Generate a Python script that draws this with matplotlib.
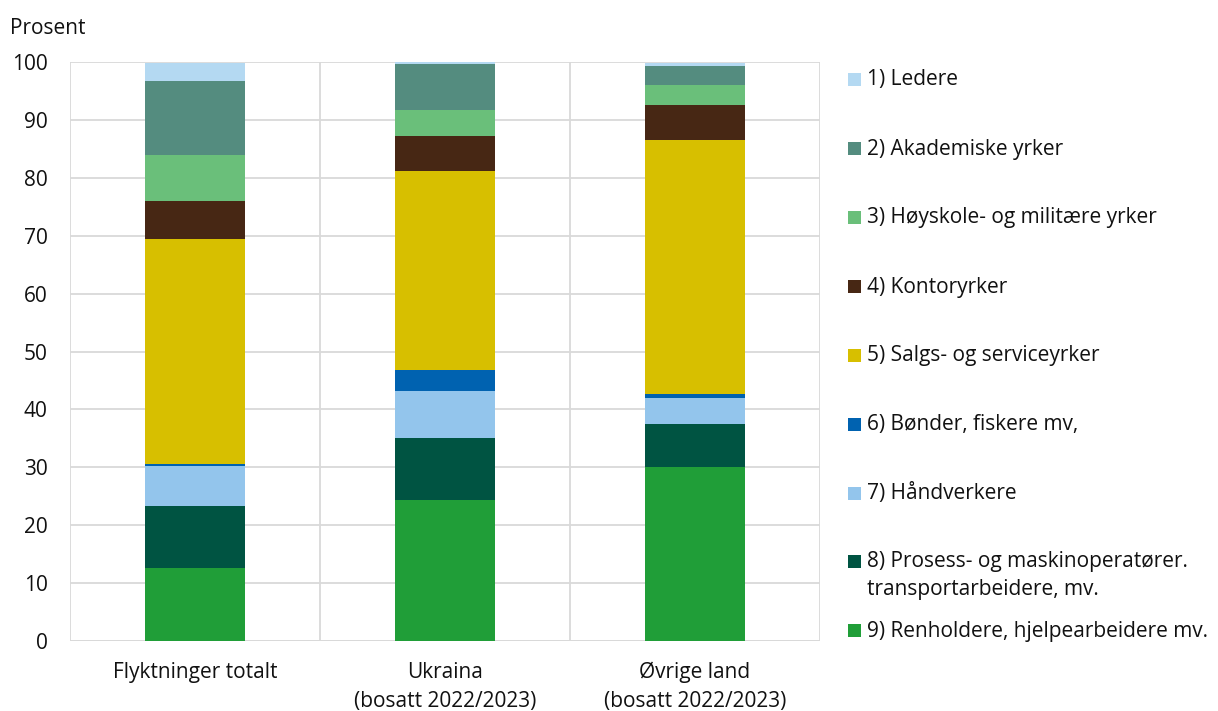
import matplotlib
matplotlib.use("Agg")
import matplotlib.pyplot as plt
from matplotlib.patches import Rectangle
import numpy as np

plt.rcParams['font.family'] = ['Open Sans', 'DejaVu Sans']

categories = ["Flyktninger totalt", "Ukraina\n(bosatt 2022/2023)", "Øvrige land\n(bosatt 2022/2023)"]
series_labels = [
    "1) Ledere",
    "2) Akademiske yrker",
    "3) Høyskole- og militære yrker",
    "4) Kontoryrker",
    "5) Salgs- og serviceyrker",
    "6) Bønder, fiskere mv,",
    "7) Håndverkere",
    "8) Prosess- og maskinoperatører.\ntransportarbeidere, mv.",
    "9) Renholdere, hjelpearbeidere mv.",
]
ledere = [3.2, 0.3, 0.5]
akademiske = [12.8, 8.0, 3.3]
hoyskole = [7.9, 4.5, 3.4]
kontor = [6.5, 6.1, 6.1]
salg = [38.9, 34.3, 43.8]
bonder = [0.4, 3.7, 0.8]
handverkere = [6.8, 8.1, 4.4]
prosess = [10.8, 10.6, 7.5]
renholdere = [12.6, 24.4, 30.0]
series_values = [ledere, akademiske, hoyskole, kontor, salg, bonder, handverkere, prosess, renholdere]
colors = ["#b4d9f2", "#548c7f", "#6abf7a", "#472714", "#d7bf00", "#0062b0", "#93c5ec", "#005442", "#209e38"]
yticks = [0, 10, 20, 30, 40, 50, 60, 70, 80, 90, 100]

W, H = 1218, 711
FS = 15
TC = "#111111"

fig = plt.figure(figsize=(W/100, H/100), dpi=100)
ax = fig.add_axes([70/W, 1-641/H, 750/W, 579/H])

x = np.arange(len(categories))
bottom = np.zeros(len(categories))
for i in range(len(series_values) - 1, -1, -1):
    vals = np.array(series_values[i])
    ax.bar(x, vals, width=0.4, bottom=bottom, color=colors[i], zorder=3, linewidth=0)
    bottom += vals

ax.set_xlim(-0.5, 2.5)
ax.set_ylim(0, 100)
ax.set_yticks(yticks)
ax.set_yticklabels([str(v) for v in yticks], fontsize=FS, color=TC)
ax.set_xticks(x)
ax.set_xticklabels(categories, fontsize=FS, color=TC, linespacing=1.5)
ax.tick_params(axis='both', length=0)
ax.tick_params(axis='y', pad=16)
ax.tick_params(axis='x', pad=15)

gc = "#d9d9d9"
ax.grid(axis='y', color=gc, linewidth=1.3, zorder=0)
for xv in [-0.5, 0.5, 1.5, 2.5]:
    ax.axvline(xv, color=gc, linewidth=1.3, zorder=0)
for s in ax.spines.values():
    s.set_visible(False)
ax.axhline(0, color=gc, linewidth=1.3, zorder=1)

fig.text(10/W, 1-28/H, "Prosent", fontsize=FS, color=TC, va='center', ha='left')

# Legend (manual placement)
marker_centers = [79, 148, 217, 286, 355, 424, 493, 561, 630]
msize = 13
for i, lab in enumerate(series_labels):
    yc = marker_centers[i]
    fig.add_artist(Rectangle((848/W, 1-(yc+msize/2)/H), msize/W, msize/H,
                             transform=fig.transFigure, color=colors[i], linewidth=0))
    lines = lab.split("\n")
    for j, line in enumerate(lines):
        fig.text(867/W, 1-(yc + 1 + j*28)/H, line, fontsize=FS, color=TC, va='center', ha='left')

fig.savefig("out.png", dpi=100)
